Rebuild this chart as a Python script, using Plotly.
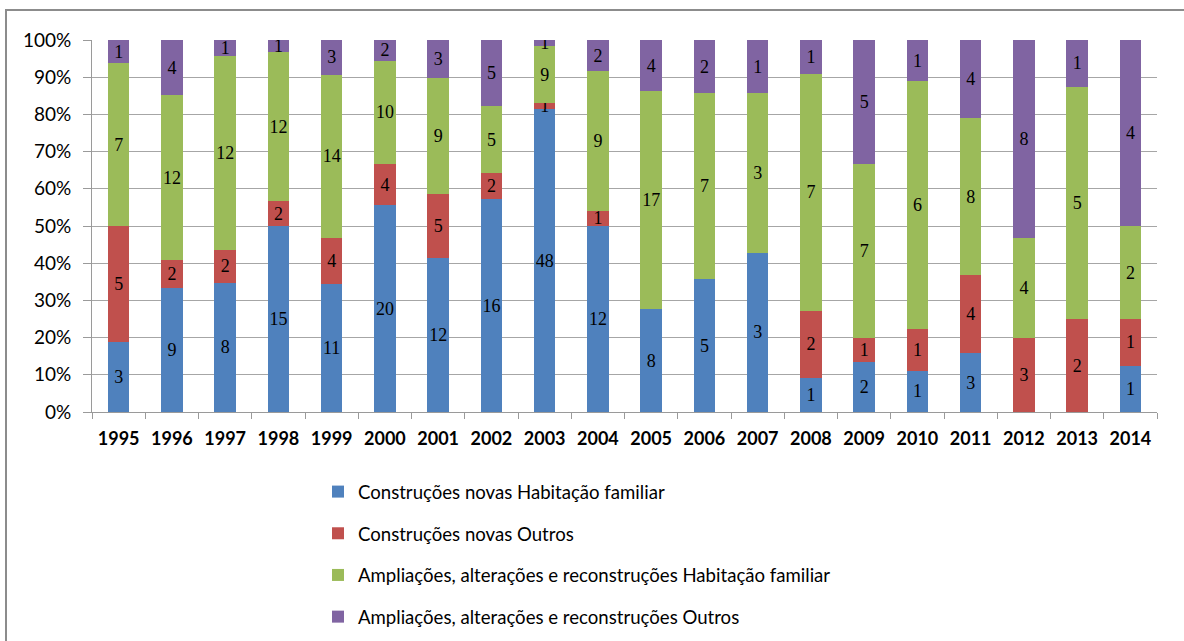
import plotly.graph_objects as go

years = ["1995", "1996", "1997", "1998", "1999", "2000", "2001", "2002", "2003", "2004",
         "2005", "2006", "2007", "2008", "2009", "2010", "2011", "2012", "2013", "2014"]
novas_hab = [3, 9, 8, 15, 11, 20, 12, 16, 48, 12, 8, 5, 3, 1, 2, 1, 3, 0, 0, 1]
novas_out = [5, 2, 2, 2, 4, 4, 5, 2, 1, 1, 0, 0, 0, 2, 1, 1, 4, 3, 2, 1]
ampl_hab = [7, 12, 12, 12, 14, 10, 9, 5, 9, 9, 17, 7, 3, 7, 7, 6, 8, 4, 5, 2]
ampl_out = [1, 4, 1, 1, 3, 2, 3, 5, 1, 2, 4, 2, 1, 1, 5, 1, 4, 8, 1, 4]

series = [
    ("Construções novas Habitação familiar", novas_hab, "#4F81BD"),
    ("Construções novas Outros", novas_out, "#C0504D"),
    ("Ampliações, alterações e reconstruções Habitação familiar", ampl_hab, "#9BBB59"),
    ("Ampliações, alterações e reconstruções Outros", ampl_out, "#8064A2"),
]

W, H = 1184, 641
L, R, T, B = 92, 27, 40, 229
pw, ph = W - L - R, H - T - B

fig = go.Figure()
for i, (name, vals, col) in enumerate(series):
    fig.add_trace(go.Bar(
        x=years, y=vals, name=name, marker_color=col, marker_line_width=0,
        text=[str(v) if v else "" for v in vals],
        textposition="inside", insidetextanchor="middle", textangle=0,
        textfont=dict(family="Liberation Serif", size=18, color="black"),
        constraintext="none", legendgroup=f"g{i}",
    ))

fig.update_layout(
    width=W, height=H,
    barmode="stack", barnorm="percent", bargap=0.6,
    margin=dict(l=L, r=R, t=T, b=B, autoexpand=False),
    plot_bgcolor="white", paper_bgcolor="white",
    uniformtext=dict(minsize=18, mode="show"),
    font=dict(family="Lato, sans-serif", color="black"),
    legend=dict(
        orientation="v", x=(318 - L) / pw, xanchor="left",
        y=(T + ph - 473) / ph, yanchor="top",
        font=dict(family="Lato, sans-serif", size=18.6, color="black"),
        tracegroupgap=14.5, traceorder="grouped", itemwidth=30,
    ),
    xaxis=dict(
        showline=True, linecolor="#9a9a9a", linewidth=1,
        ticks="outside", tickson="boundaries", ticklen=6, tickcolor="#9a9a9a",
        ticklabelstandoff=10,
        tickfont=dict(family="Lato, sans-serif", size=18, color="black", weight="bold"),
    ),
    yaxis=dict(
        range=[0, 100], dtick=10, ticksuffix="%",
        showline=True, linecolor="#9a9a9a", linewidth=1,
        ticks="outside", ticklen=8, tickcolor="#9a9a9a",
        ticklabelstandoff=8,
        gridcolor="#a6a6a6", gridwidth=1,
        tickfont=dict(family="Lato, sans-serif", size=19, color="black"),
        zeroline=False,
    ),
)

# outer chart frame
fig.add_shape(type="rect", xref="paper", yref="paper",
              x0=(6 - L) / pw, x1=(W + 10 - L) / pw,
              y0=(T + ph - (H + 10)) / ph, y1=(T + ph - 10) / ph,
              line=dict(color="#8c8c8c", width=2), fillcolor="rgba(0,0,0,0)", layer="below")

fig.write_html("out.html", config={"displayModeBar": False},
               post_script="document.body.style.margin='0';")
